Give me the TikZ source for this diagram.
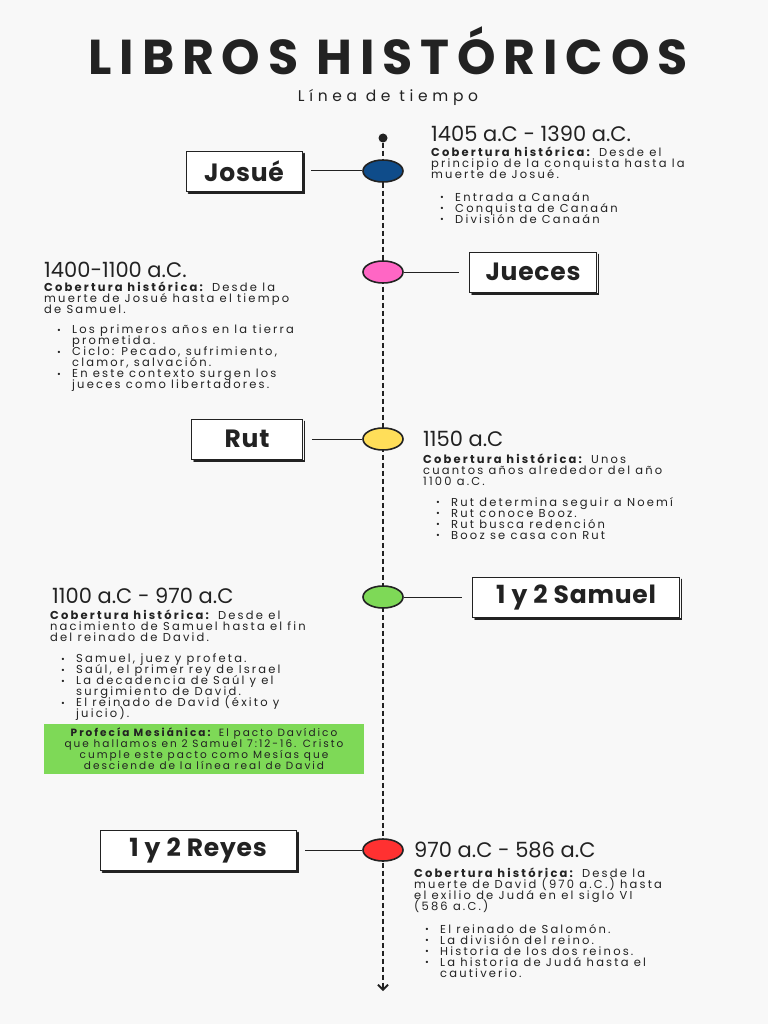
\documentclass[tikz,border=0pt]{standalone}
\usepackage{fontspec}
\setmainfont{Poppins}
\newfontfamily\ttlfont{Poppins}[LetterSpace=16]
\newfontfamily\txtfont{Poppins}[LetterSpace=19]
\newfontfamily\subfont{Poppins}[LetterSpace=30]
\newfontfamily\lblfont{Poppins}[LetterSpace=3]
\usetikzlibrary{positioning, shapes.geometric, arrows.meta}
\definecolor{tlink}{HTML}{222222}
\definecolor{tlbg}{HTML}{F8F8F8}
\definecolor{tlblue}{HTML}{0F4C8A}
\definecolor{tlpink}{HTML}{FF66C4}
\definecolor{tlyellow}{HTML}{FFDE59}
\definecolor{tlgreen}{HTML}{7ED957}
\definecolor{tlred}{HTML}{FF3131}
\newcommand\bl{\makebox[15pt][l]{\raisebox{0.5pt}{\scalebox{0.8}{•}}}}
\newcommand\cn{\hspace*{15pt}}
\newcommand\tightlines{\setlength{\lineskiplimit}{-20pt}}

\begin{document}
\begin{tikzpicture}[x=1pt, y=-1pt,
  book/.style={draw=tlink, line width=0.8pt, fill=white, font=\lblfont\fontsize{25}{27}\selectfont\bfseries, text=tlink, minimum height=40pt},
  dot/.style={ellipse, draw=tlink, line width=1.6pt, minimum width=40pt, minimum height=22pt, inner sep=0pt},
  hdg/.style={font=\fontsize{21}{23}\selectfont, text=tlink, inner sep=0pt, anchor=west},
  desc/.style={font=\txtfont\fontsize{11.5}{11}\selectfont\tightlines, text=tlink, inner sep=0pt, anchor=north west, align=left},
  link/.style={line width=1pt, tlink},
  shade/.style={line width=1.8pt, tlink, line cap=round}
]
  \fill[tlbg] (0,0) rectangle (768,1024);

  % title
  \node[font=\ttlfont\fontsize{49}{52}\selectfont\bfseries, text=tlink, anchor=base] (title) at (388,75) {LIBROS HISTÓRICOS};
  \node[font=\subfont\fontsize{15.5}{18}\selectfont, text=tlink] (subtitle) at (388,97) {Línea de tiempo};

  % timeline
  \node[circle, fill=tlink, minimum size=9pt, inner sep=0pt] (start) at (383,138) {};
  \coordinate (end) at (383,991);
  \draw[line width=2.6pt, tlink, dash pattern=on 5pt off 3pt, -{Straight Barb[length=5pt, width=10pt, line width=1.8pt]}] (start) -- (end);

  % dots
  \node[dot, fill=tlblue] (d1) at (383,171) {};
  \node[dot, fill=tlpink] (d2) at (383,272) {};
  \node[dot, fill=tlyellow] (d3) at (383,439) {};
  \node[dot, fill=tlgreen] (d4) at (383,597) {};
  \node[dot, fill=tlred] (d5) at (383,850) {};

  % books
  \node[book, minimum width=116pt] (josue) at (244,171) {Josué};
  \node[book, minimum width=127pt] (jueces) at (533,272) {Jueces};
  \node[book, minimum width=111pt] (rut) at (247,439) {Rut};
  \node[book, minimum width=207pt] (samuel) at (576,597) {1 y 2 Samuel};
  \node[book, minimum width=196pt] (reyes) at (198,850) {1 y 2 Reyes};
  \foreach \b in {josue, jueces, rut, samuel, reyes}
    \draw[shade] ([shift={(1.5,3)}]\b.north east) -- ([shift={(1.5,1.5)}]\b.south east) -- ([shift={(3,1.5)}]\b.south west);

  % connectors
  \draw[link] (josue.east) ++(9,0) -- (d1.west);
  \draw[link] (d2.east) -- ([xshift=-10pt]jueces.west);
  \draw[link] (rut.east) ++(9,0) -- (d3.west);
  \draw[link] (d4.east) -- ([xshift=-10pt]samuel.west);
  \draw[link] (reyes.east) ++(9,0) -- (d5.west);

  % Josue
  \node[hdg] (h1) at (431,134) {1405 a.C - 1390 a.C.};
  \node[desc] (t1) at (431,147) {\textbf{Cobertura histórica:} Desde el\\principio de la conquista hasta la\\muerte de Josué.};
  \node[desc] (l1) at (440,192) {\bl Entrada a Canaán\\\bl Conquista de Canaán\\\bl División de Canaán};

  % Jueces
  \node[hdg] (h2) at (44,270) {1400-1100 a.C.};
  \node[desc] (t2) at (44,282) {\textbf{Cobertura histórica:} Desde la\\muerte de Josué hasta el tiempo\\de Samuel.};
  \node[desc] (l2) at (57,325) {\bl Los primeros años en la tierra\\\cn prometida.\\\bl Ciclo: Pecado, sufrimiento,\\\cn clamor, salvación.\\\bl En este contexto surgen los\\\cn jueces como libertadores.};

  % Rut
  \node[hdg] (h3) at (423,439) {1150 a.C};
  \node[desc] (t3) at (423,454) {\textbf{Cobertura histórica:} Unos\\cuantos años alrededor del año\\1100 a.C.};
  \node[desc] (l3) at (436,497) {\bl Rut determina seguir a Noemí\\\bl Rut conoce Booz.\\\bl Rut busca redención\\\bl Booz se casa con Rut};

  % Samuel
  \node[hdg] (h4) at (52,596) {1100 a.C - 970 a.C};
  \node[desc] (t4) at (50,610) {\textbf{Cobertura histórica:} Desde el\\nacimiento de Samuel hasta el fin\\del reinado de David.};
  \node[desc] (l4) at (61,654) {\bl Samuel, juez y profeta.\\\bl Saúl, el primer rey de Israel\\\bl La decadencia de Saúl y el\\\cn surgimiento de David.\\\bl El reinado de David (éxito y\\\cn juicio).};
  \node[desc, font=\txtfont\fontsize{10.5}{11}\selectfont\tightlines, anchor=center, align=center, fill=tlgreen, minimum width=320pt, minimum height=50pt] (prof) at (204,749) {\textbf{Profecía Mesiánica:} El pacto Davídico\\que hallamos en 2 Samuel 7:12-16. Cristo\\cumple este pacto como Mesías que\\desciende de la línea real de David};

  % Reyes
  \node[hdg] (h5) at (414,850) {970 a.C - 586 a.C};
  \node[desc] (t5) at (414,868) {\textbf{Cobertura histórica:} Desde la\\muerte de David (970 a.C.) hasta\\el exilio de Judá en el siglo VI\\(586 a.C.)};
  \node[desc] (l5) at (425,924) {\bl El reinado de Salomón.\\\bl La división del reino.\\\bl Historia de los dos reinos.\\\bl La historia de Judá hasta el\\\cn cautiverio.};
\end{tikzpicture}
\end{document}
